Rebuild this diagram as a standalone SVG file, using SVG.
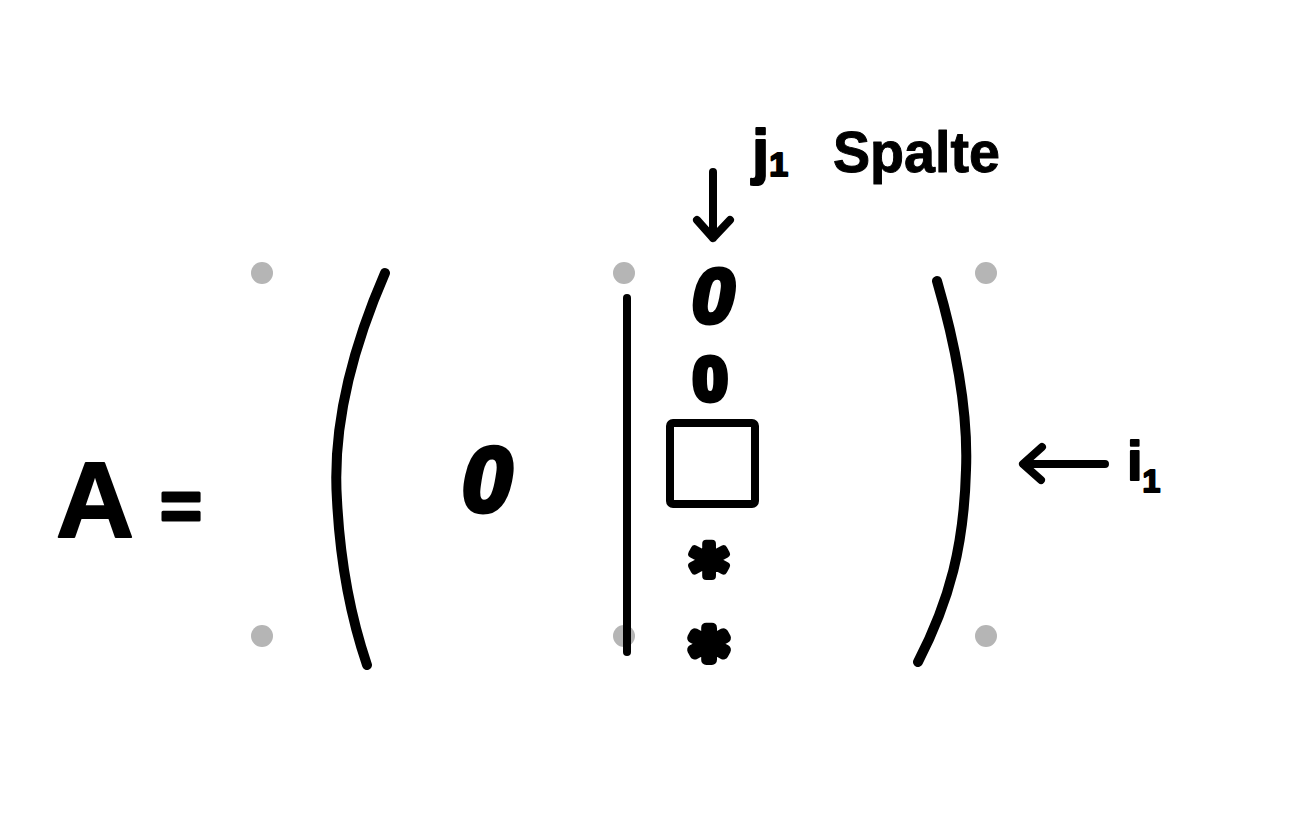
<svg xmlns="http://www.w3.org/2000/svg" width="1301" height="817" viewBox="0 0 1301 817">
<style>
.ink{fill:none;stroke:#000;stroke-linecap:round;stroke-linejoin:round}
.t{font-family:"Liberation Sans",Arial,sans-serif;font-weight:bold;fill:#000;stroke:#000;stroke-linejoin:round}
.ast{font-family:"DejaVu Sans",sans-serif;font-weight:bold;fill:#000;stroke:#000;stroke-linejoin:round;text-anchor:middle}
.dot{fill:#b5b5b5}
</style>
<rect width="1301" height="817" fill="#fff"/>
<g id="handles">
<circle class="dot" cx="262" cy="273" r="11"/>
<circle class="dot" cx="624" cy="273" r="11"/>
<circle class="dot" cx="986" cy="273" r="11"/>
<circle class="dot" cx="262" cy="636" r="11"/>
<circle class="dot" cx="624" cy="636" r="11"/>
<circle class="dot" cx="986" cy="636" r="11"/>
</g>
<g id="lhs">
<text class="t" x="56" y="537" font-size="108" stroke-width="2">A</text>
<text class="t" x="160" y="530" font-size="72" stroke-width="3">=</text>
</g>
<g id="matrix">
<path class="ink" stroke-width="10" d="M385,273 C345,365 333,440 337,500 C340,560 350,615 367,665"/>
<path class="ink" stroke-width="10" d="M937,281 C960,360 968,420 966,470 C964,545 950,600 918,662"/>
<line class="ink" stroke-width="8" x1="627" y1="298" x2="627" y2="652"/>
<text class="t" x="462" y="511" font-size="90" font-style="italic" stroke-width="5">0</text>
<text class="t" x="692" y="322" font-size="76" font-style="italic" stroke-width="5">0</text>
<text class="t" x="693" y="400" font-size="62" stroke-width="6">0</text>
<rect class="ink" stroke-width="8" x="670" y="423" width="85" height="81" rx="3"/>
<text class="ast" x="709" y="595" font-size="70" stroke-width="8">*</text>
<text class="ast" x="709" y="679" font-size="70" stroke-width="10">*</text>
</g>
<g id="connectors">
<path class="ink" stroke-width="8" d="M713,172 L713,238 M697,220 L713,238 L730,220"/>
<path class="ink" stroke-width="8" d="M1105,464 L1025,464 M1042,447 L1023,464 L1041,480"/>
</g>
<g id="labels">
<text class="t" x="752" y="172" font-size="62" stroke-width="2">j<tspan font-size="34" dy="4">1</tspan></text>
<text class="t" x="833" y="172" font-size="58" stroke-width="1" textLength="167" lengthAdjust="spacingAndGlyphs">Spalte</text>
<text class="t" x="1127" y="480" font-size="56" stroke-width="2">i<tspan font-size="32" dy="12">1</tspan></text>
</g>
</svg>
